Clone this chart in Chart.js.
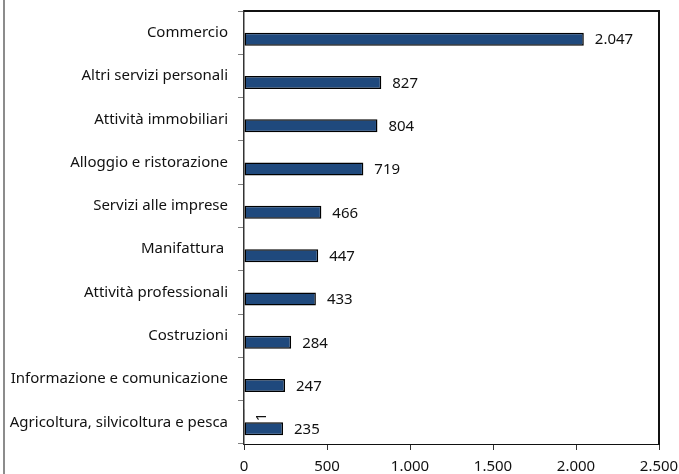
<!DOCTYPE html>
<html>
<head>
<meta charset="utf-8">
<script src="https://cdn.jsdelivr.net/npm/chart.js@4/dist/chart.umd.min.js"></script>
<style>
  html, body { margin: 0; padding: 0; background: #fff; }
  #wrap { position: relative; width: 679px; height: 474px; }
</style>
</head>
<body>
<div id="wrap"><canvas id="c" width="679" height="474"></canvas></div>
<script>
const categories = [
  "Commercio",
  "Altri servizi personali",
  "Attività immobiliari",
  "Alloggio e ristorazione",
  "Servizi alle imprese",
  "Manifattura ",
  "Attività professionali",
  "Costruzioni",
  "Informazione e comunicazione",
  "Agricoltura, silvicoltura e pesca"
];
const seriesSmall = [null, null, null, null, null, null, null, null, null, 1];
const seriesMain = [2047, 827, 804, 719, 466, 447, 433, 284, 247, 235];
const xTicks = [0, 500, 1000, 1500, 2000, 2500];

const FONT = "'Noto Sans', sans-serif";
const TXT = '#111111';

function fmt(v) {
  const s = String(Math.round(Math.abs(v)));
  return (v < 0 ? '-' : '') + s.replace(/\B(?=(\d{3})+(?!\d))/g, '.');
}

const framePlugin = {
  id: 'frame',
  afterDraw(chart) {
    const ctx = chart.ctx, a = chart.chartArea;
    ctx.save();
    ctx.fillStyle = '#8c8c8c';
    ctx.fillRect(3, 0, 2, chart.height);
    ctx.fillStyle = '#111111';
    ctx.fillRect(Math.round(a.left), Math.round(a.top) - 1, Math.round(a.right - a.left), 2);
    ctx.fillRect(Math.round(a.right) - 1, Math.round(a.top) - 1, 2, Math.round(a.bottom - a.top) + 1);
    ctx.restore();
  }
};

const labelPlugin = {
  id: 'barLabels',
  afterDatasetsDraw(chart) {
    const ctx = chart.ctx;
    ctx.save();
    ctx.font = '15px ' + FONT;
    ctx.fillStyle = TXT;
    chart.data.datasets.forEach((ds, di) => {
      const meta = chart.getDatasetMeta(di);
      meta.data.forEach((el, i) => {
        const v = ds.data[i];
        if (v === null || v === undefined) return;
        if (ds.rotateLabel) {
          ctx.save();
          ctx.translate(el.x + 18, el.y + 1);
          ctx.rotate(-Math.PI / 2);
          ctx.textAlign = 'center';
          ctx.textBaseline = 'middle';
          ctx.fillText(fmt(v), 0, 0);
          ctx.restore();
        } else {
          ctx.textAlign = 'left';
          ctx.textBaseline = 'middle';
          ctx.fillText(fmt(v), el.x + 11, el.y + 1);
        }
      });
    });
    ctx.restore();
  }
};

new Chart(document.getElementById('c'), {
  type: 'bar',
  data: {
    labels: categories,
    datasets: [
      {
        label: 'a',
        data: seriesSmall,
        backgroundColor: '#1f497d',
        borderColor: '#000000',
        borderWidth: 1.5,
        borderSkipped: false,
        rotateLabel: true,
        categoryPercentage: 0.6,
        barPercentage: 1.0
      },
      {
        label: 'b',
        data: seriesMain,
        backgroundColor: '#1f497d',
        borderColor: '#000000',
        borderWidth: 1.5,
        borderSkipped: false,
        categoryPercentage: 0.6,
        barPercentage: 1.0
      }
    ]
  },
  options: {
    indexAxis: 'y',
    responsive: false,
    animation: false,
    devicePixelRatio: 1,
    layout: { padding: { top: 11, right: 20, left: 0, bottom: 0 } },
    plugins: { legend: { display: false }, tooltip: { enabled: false } },
    scales: {
      x: {
        type: 'linear',
        min: 0,
        max: 2500,
        afterBuildTicks(scale) { scale.ticks = xTicks.map(v => ({ value: v })); },
        afterFit(scale) { scale.height = 30; scale.paddingLeft = 0; scale.paddingRight = 0; },
        grid: { display: true, drawOnChartArea: false, drawTicks: true, tickLength: 6, color: '#333333', lineWidth: 1 },
        border: { display: true, color: '#111111', width: 1 },
        ticks: {
          font: { family: FONT, size: 15 },
          color: TXT,
          padding: 8,
          maxRotation: 0,
          callback: (v) => fmt(v)
        }
      },
      y: {
        type: 'category',
        offset: true,
        afterFit(scale) { scale.width = 244; scale.paddingTop = 0; scale.paddingBottom = 0; },
        grid: { display: true, drawOnChartArea: false, drawTicks: true, tickLength: 6, color: '#808080', lineWidth: 1, offset: true },
        border: { display: true, color: '#333333', width: 1.5 },
        ticks: {
          font: { family: FONT, size: 15 },
          color: TXT,
          padding: 10,
          autoSkip: false
        }
      }
    }
  },
  plugins: [framePlugin, labelPlugin]
});
</script>
</body>
</html>
